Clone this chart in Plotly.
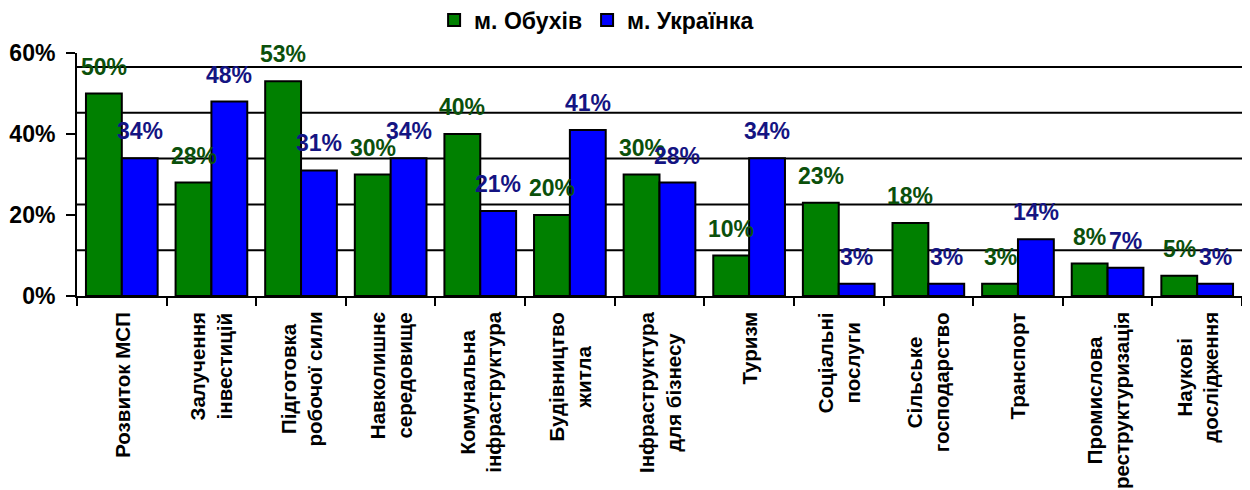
import plotly.graph_objects as go

categories = [
    "Розвиток МСП",
    "Залучення<br>інвестицій",
    "Підготовка<br>робочої сили",
    "Навколишнє<br>середовище",
    "Комунальна<br>інфраструктура",
    "Будівництво<br>житла",
    "Інфраструктура<br>для бізнесу",
    "Туризм",
    "Соціальні<br>послуги",
    "Сільське<br>господарство",
    "Транспорт",
    "Промислова<br>реструктуризація",
    "Наукові<br>дослідження",
]
obukhiv = [50, 28, 53, 30, 40, 20, 30, 10, 23, 18, 3, 8, 5]
ukrainka = [34, 48, 31, 34, 21, 41, 28, 34, 3, 3, 14, 7, 3]
series_names = ["м. Обухів", "м. Українка"]
y_ticks = [0, 20, 40, 60]
y_tick_text = ["0%", "20%", "40%", "60%"]
grid_step = 11.31
grid_count = 5

FONT = "Arial, Liberation Sans, sans-serif"
bar_colors = ["#008000", "#0000FF"]
label_colors = ["#0B500B", "#141482"]

fig = go.Figure()
for name, vals, col in zip(series_names, [obukhiv, ukrainka], bar_colors):
    fig.add_trace(go.Bar(
        x=categories, y=vals, name=name,
        marker=dict(color=col, line=dict(color="black", width=2)),
    ))

# gridlines (offset from the tick values, as in the original)
shapes = []
for k in range(1, grid_count + 1):
    shapes.append(dict(type="line", xref="paper", x0=0, x1=1, yref="y",
                       y0=k * grid_step, y1=k * grid_step,
                       line=dict(color="black", width=2), layer="below"))

annotations = []
# value labels
for vals, col, shift in [(obukhiv, label_colors[0], -17.9), (ukrainka, label_colors[1], 17.9)]:
    for c, v in zip(categories, vals):
        annotations.append(dict(x=c, y=v, xref="x", yref="y", text=f"{v}%",
                                showarrow=False, xshift=shift, yshift=27,
                                yanchor="middle",
                                font=dict(family=FONT, size=23, color=col, weight="bold")))
# category labels
for c in categories:
    annotations.append(dict(x=c, y=0, xref="x", yref="y", text=c, showarrow=False,
                            textangle=-90, yanchor="top", xanchor="center",
                            yshift=-14, align="center",
                            font=dict(family=FONT, size=20.5, color="black", weight="bold")))

fig.update_layout(
    width=1242, height=482,
    margin=dict(l=69, r=8, t=45, b=194, autoexpand=False),
    paper_bgcolor="white", plot_bgcolor="white",
    barmode="group", bargap=0.2, bargroupgap=0,
    font=dict(family=FONT, size=22, color="black", weight="bold"),
    showlegend=True,
    legend=dict(orientation="h", x=0.446, xanchor="center", y=1.136, yanchor="middle",
                font=dict(family=FONT, size=23, color="black", weight="bold"),
                itemwidth=30, bgcolor="rgba(0,0,0,0)"),
    shapes=shapes,
    annotations=annotations,
    xaxis=dict(type="category", showline=True, linecolor="black", linewidth=2,
               ticks="outside", tickson="boundaries", ticklen=8, tickwidth=2,
               tickcolor="black", showticklabels=False, showgrid=False, zeroline=False),
    yaxis=dict(range=[0, 60], tickmode="array", tickvals=y_ticks, ticktext=y_tick_text,
               showline=True, linecolor="black", linewidth=2, ticks="outside",
               ticklen=9, tickwidth=2, tickcolor="black", showgrid=False,
               zeroline=False, ticklabelstandoff=6,
               tickfont=dict(family=FONT, size=23, color="black", weight="bold")),
)

fig.write_html("out.html")
